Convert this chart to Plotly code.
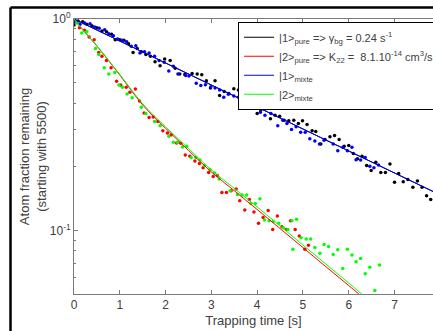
import plotly.graph_objects as go
import math

# ---------------- data ----------------
black_t = [0.0, 0.09, 0.19, 0.28, 0.39, 0.50, 0.61, 0.71, 0.82, 0.90, 1.00, 1.09, 1.19, 1.29, 1.38, 1.47,
           1.57, 1.67, 1.77, 1.88, 1.98, 2.10, 2.21, 2.31, 2.42, 2.58, 2.69, 2.79, 2.89, 2.98, 3.08, 3.18,
           3.28, 3.38, 3.49, 3.59, 3.69, 3.79, 3.89, 4.00, 4.08, 4.19, 4.29, 4.39, 4.49, 4.59, 4.69, 4.80,
           4.90, 4.99, 5.09, 5.20, 5.28, 5.39, 5.48, 5.59, 5.69, 5.79, 5.90, 6.00, 6.10, 6.19, 6.29, 6.39,
           6.49, 6.59, 6.70, 6.80, 6.90, 7.00, 7.09, 7.19, 7.29, 7.40, 7.50, 7.60, 7.70, 7.79]
black_y = [0.937, 0.978, 0.971, 0.944, 0.929, 0.910, 0.877, 0.871, 0.846, 0.798, 0.798, 0.793, 0.764, 0.695,
           0.726, 0.700, 0.680, 0.666, 0.628, 0.601, 0.646, 0.637, 0.584, 0.550, 0.547, 0.553, 0.549, 0.545,
           0.510, 0.471, 0.510, 0.435, 0.454, 0.444, 0.468, 0.461, 0.420, 0.410, 0.400, 0.357, 0.371, 0.376,
           0.337, 0.350, 0.347, 0.332, 0.330, 0.332, 0.320, 0.330, 0.317, 0.296, 0.294, 0.256, 0.269, 0.277,
           0.281, 0.269, 0.250, 0.252, 0.231, 0.218, 0.224, 0.203, 0.192, 0.210, 0.188, 0.188, 0.206, 0.169,
           0.186, 0.170, 0.174, 0.160, 0.171, 0.160, 0.146, 0.140]

blue_t = [0.01, 0.13, 0.23, 0.35, 0.45, 0.55, 0.67, 0.76, 0.86, 0.95, 1.05, 1.15, 1.25, 1.35, 1.44, 1.54,
          1.64, 1.76, 1.86, 1.97, 2.07, 2.17, 2.27, 2.44, 2.51, 2.67, 2.77, 2.87, 2.99, 3.08, 3.18, 3.27,
          3.37, 3.49, 3.59, 3.70, 3.80, 3.90, 3.97, 4.07, 4.17, 4.30, 4.45, 4.56, 4.65, 4.75, 4.85, 4.95,
          5.05, 5.15, 5.26, 5.36, 5.46, 5.66, 5.76, 5.87, 5.97, 6.07, 6.16, 6.26, 6.36, 6.46, 6.55, 6.65]
blue_y = [0.965, 0.944, 0.957, 0.950, 0.916, 0.904, 0.890, 0.852, 0.834, 0.804, 0.793, 0.780, 0.743, 0.747,
          0.690, 0.700, 0.690, 0.666, 0.637, 0.624, 0.567, 0.597, 0.550, 0.541, 0.537, 0.496, 0.485, 0.488,
          0.478, 0.471, 0.461, 0.426, 0.441, 0.432, 0.426, 0.410, 0.400, 0.390, 0.379, 0.362, 0.350, 0.357,
          0.313, 0.332, 0.320, 0.300, 0.309, 0.291, 0.291, 0.271, 0.265, 0.256, 0.267, 0.256, 0.238, 0.247,
          0.238, 0.247, 0.216, 0.215, 0.221, 0.201, 0.198, 0.204]

red_t = [0.0, 0.12, 0.23, 0.33, 0.44, 0.54, 0.61, 0.71, 0.81, 0.93, 1.02, 1.14, 1.22, 1.34, 1.43, 1.53,
         1.64, 1.73, 1.83, 1.94, 2.04, 2.12, 2.24, 2.33, 2.43, 2.53, 2.64, 2.74, 2.82, 2.94, 3.04, 3.13,
         3.23, 3.33, 3.43, 3.54, 3.62, 3.73, 3.83, 3.93, 4.03, 4.13, 4.24, 4.34, 4.44, 4.54, 4.64, 4.73,
         4.83, 4.92, 5.04, 5.12]
red_y = [0.990, 0.909, 0.884, 0.822, 0.798, 0.695, 0.666, 0.637, 0.588, 0.508, 0.487, 0.476, 0.450, 0.466,
         0.409, 0.359, 0.342, 0.344, 0.327, 0.296, 0.289, 0.283, 0.259, 0.258, 0.227, 0.224, 0.213, 0.207,
         0.198, 0.188, 0.180, 0.182, 0.151, 0.151, 0.154, 0.157, 0.138, 0.125, 0.140, 0.122, 0.108, 0.115,
         0.124, 0.101, 0.117, 0.104, 0.101, 0.111, 0.101, 0.094, 0.0815, 0.085]

green_t = [0.06, 0.17, 0.28, 0.47, 0.54, 0.66, 0.76, 0.89, 0.98, 1.06, 1.16, 1.27, 1.47, 1.57, 1.76, 1.88,
           2.07, 2.17, 2.26, 2.37, 2.46, 2.56, 2.66, 2.75, 2.85, 2.97, 3.07, 3.17, 3.41, 3.57, 3.67, 3.77,
           3.86, 3.96, 4.06, 4.16, 4.26, 4.35, 4.47, 4.57, 4.67, 4.76, 4.78, 4.86, 4.96, 5.07, 5.17, 5.26,
           5.37, 5.46, 5.56, 5.66, 5.76, 5.87, 5.97, 6.07, 6.16, 6.26, 6.36, 6.46, 6.57, 6.67]
green_y = [0.957, 0.859, 0.871, 0.726, 0.680, 0.588, 0.550, 0.559, 0.487, 0.476, 0.442, 0.424, 0.382, 0.357,
           0.327, 0.313, 0.279, 0.261, 0.261, 0.248, 0.250, 0.221, 0.221, 0.215, 0.203, 0.194, 0.187, 0.175,
           0.154, 0.148, 0.147, 0.147, 0.134, 0.134, 0.141, 0.112, 0.111, 0.110, 0.108, 0.103, 0.101, 0.111,
           0.0815, 0.113, 0.0923, 0.091, 0.091, 0.083, 0.078, 0.0858, 0.084, 0.0769, 0.081, 0.066, 0.0815,
           0.0764, 0.0711, 0.0737, 0.0623, 0.067, 0.052, 0.0685]

# fitted curves
fit1_t = [0, 1, 2, 3, 4, 5, 6, 7, 8]
fit1_pure = [1.0, 0.787, 0.619, 0.487, 0.383, 0.301, 0.237, 0.186, 0.147]
fit1_mixte = [1.0, 0.787, 0.619, 0.487, 0.383, 0.301, 0.237, 0.186, 0.147]

fit2_t = [0, 0.25, 0.5, 0.75, 1.0, 1.5, 2.0, 2.5, 3.0, 3.5, 4.0, 4.5, 5.0, 5.5, 6.0, 6.5]
fit2_pure = [1.0, 0.86, 0.745, 0.637, 0.543, 0.392, 0.304, 0.239, 0.189, 0.154, 0.1255, 0.102, 0.0829,
             0.0674, 0.0548, 0.0445]
fit2_mixte = [1.0, 0.86, 0.748, 0.640, 0.547, 0.397, 0.309, 0.244, 0.193, 0.158, 0.129, 0.105, 0.0852,
              0.0693, 0.0563, 0.0457]

legend_names = [
    "|1&gt;<sub>pure</sub> =&gt; γ<sub>bg</sub> = 0.24 s<sup>-1</sup>",
    "|2&gt;<sub>pure</sub> =&gt; K<sub>22</sub> =  8.1.10<sup>-14</sup> cm<sup>3</sup>/s\u00a0\u00a0\u00a0",
    "|1&gt;<sub>mixte</sub>",
    "|2&gt;<sub>mixte</sub>",
]
x_ticks = [0, 1, 2, 3, 4, 5, 6, 7]
y_ticks = [0.1, 1]
y_ticktext = ["10<sup>-1</sup>", "10<sup>0</sup>"]
y_minor = [0.06, 0.07, 0.08, 0.09, 0.2, 0.3, 0.4, 0.5, 0.6, 0.7, 0.8, 0.9]

BLACK = "#000000"
RED = "#ff0000"
BLUE = "#0000ff"
GREEN = "#00ff00"

fig = go.Figure()

# scatter points
for t, y, c in [(black_t, black_y, BLACK), (red_t, red_y, RED), (blue_t, blue_y, BLUE), (green_t, green_y, GREEN)]:
    fig.add_trace(go.Scatter(x=t, y=y, mode="markers", showlegend=False,
                             marker=dict(color=c, size=3.5, line=dict(width=0))))

# fit lines
fig.add_trace(go.Scatter(x=fit1_t, y=fit1_pure, mode="lines", name=legend_names[0],
                         line=dict(color=BLACK, width=1)))
fig.add_trace(go.Scatter(x=fit2_t, y=fit2_pure, mode="lines", name=legend_names[1],
                         line=dict(color=RED, width=1, shape="spline")))
fig.add_trace(go.Scatter(x=fit1_t, y=fit1_mixte, mode="lines", name=legend_names[2],
                         line=dict(color=BLUE, width=1)))
fig.add_trace(go.Scatter(x=fit2_t, y=fit2_mixte, mode="lines", name=legend_names[3],
                         line=dict(color=GREEN, width=1, shape="spline")))

axis_gray = "#7a7a7a"
text_gray = "#404040"

W, H = 433, 331
ML, MR, MT, MB = 74, 0, 19, 37
PW, PH = W - ML - MR, H - MT - MB
frame_x = (10.5 - ML) / PW
frame_y = (H - MB - 7.5) / PH
paper_right = 1.0
paper_bottom = -MB / PH

fig.update_layout(
    width=W, height=H,
    margin=dict(l=ML, r=MR, t=MT, b=MB, autoexpand=False),
    paper_bgcolor="white", plot_bgcolor="white",
    font=dict(family="Liberation Sans, Arial, sans-serif", size=11, color=text_gray),
    showlegend=True,
    legend=dict(x=0.457, y=0.99, xanchor="left", yanchor="top",
                bgcolor="white", bordercolor="#000000", borderwidth=1,
                font=dict(size=11, color=text_gray), itemwidth=30,
                tracegroupgap=0),
    xaxis=dict(range=[0, 7.84], tickvals=x_ticks, ticks="inside", ticklen=4, automargin=False,
               tickcolor=axis_gray, showline=True, linecolor=axis_gray, linewidth=1,
               mirror="ticks", showgrid=False, zeroline=False,
               tickfont=dict(size=12, color=text_gray),
               title=dict(text="Trapping time [s]", font=dict(size=13, color=text_gray), standoff=4)),
    yaxis=dict(type="log", range=[math.log10(0.05), 0], tickvals=y_ticks, ticktext=y_ticktext,
               ticks="inside", ticklen=4, tickcolor=axis_gray, showline=True, linecolor=axis_gray,
               linewidth=1, mirror=False, showgrid=False, zeroline=False, automargin=False,
               tickfont=dict(size=12, color=text_gray),
               minor=dict(tickvals=y_minor, ticks="inside", ticklen=2, tickcolor=axis_gray, showgrid=False),
               title=dict(text="Atom fraction remaining<br>(starting with 5500)",
                          font=dict(size=13, color=text_gray), standoff=0)),
    shapes=[
        dict(type="line", xref="paper", yref="paper", x0=frame_x, x1=paper_right, y0=frame_y, y1=frame_y,
             line=dict(color="#000000", width=2.5), layer="above"),
        dict(type="line", xref="paper", yref="paper", x0=frame_x, x1=frame_x, y0=paper_bottom, y1=frame_y,
             line=dict(color="#000000", width=2.5), layer="above"),
    ],
)

fig.write_html(
    "out.html",
    config={"displayModeBar": False},
    post_script=("document.body.style.margin='0px';"
                 "document.body.style.overflow='hidden';"
                 "document.documentElement.style.overflow='hidden';"),
)
